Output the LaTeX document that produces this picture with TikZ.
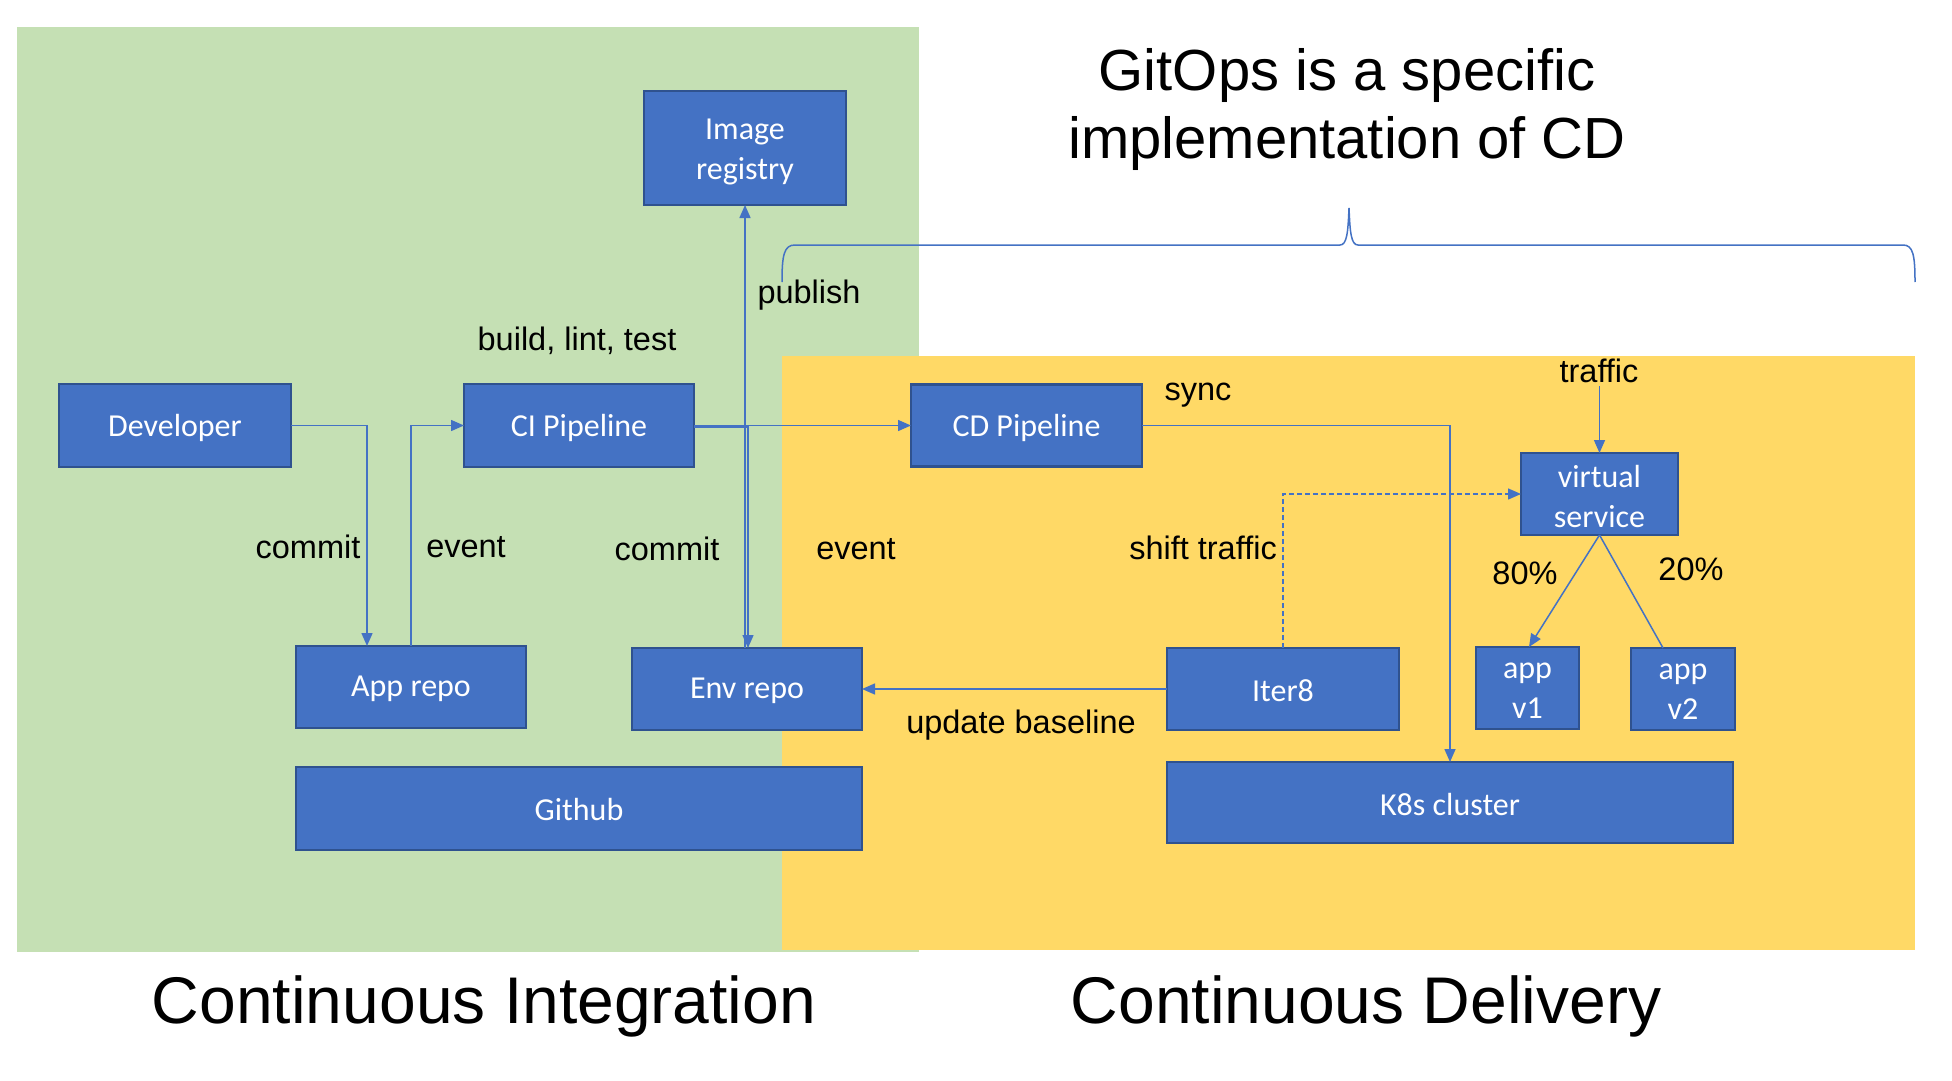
\documentclass[tikz,border=0pt]{standalone}
\usepackage{fontspec}
\setmainfont{Liberation Sans}
\newfontfamily\boxfont{Carlito}
\usetikzlibrary{arrows.meta}
\definecolor{cigreen}{HTML}{C5E0B4}
\definecolor{cdyellow}{HTML}{FFD966}
\definecolor{boxblue}{HTML}{4472C4}
\definecolor{boxedge}{HTML}{2F528F}
\definecolor{linec}{HTML}{4472C4}
\begin{document}
\begin{tikzpicture}[x=1pt,y=-1pt,
  box/.style={draw=boxedge, fill=boxblue, line width=2.5pt, inner sep=0pt, outer sep=0pt},
  boxt/.style={inner sep=0pt, text=white, align=center, font=\boxfont\fontsize{32}{40}\selectfont},
  lbl/.style={inner sep=0pt, font=\fontsize{32.5}{38}\selectfont},
  bigt/.style={inner sep=0pt, anchor=base, font=\fontsize{66}{70}\selectfont},
  midt/.style={inner sep=0pt, anchor=base, font=\fontsize{58}{62}\selectfont},
  arr/.style={draw=linec, line width=1.5pt, -{Triangle[length=13pt,width=11pt]}},
  plain/.style={draw=linec, line width=1.5pt}]
\useasboundingbox (0,0) rectangle (1952,1081);
\fill[white] (0,0) rectangle (1952,1081);
\fill[cigreen] (17,27) rectangle (919,952);
\fill[cdyellow] (782,356) rectangle (1915,950);

% nodes
\node[box, minimum width=202pt, minimum height=114pt, label={[boxt,yshift=-4pt]center:{Image\\registry}}] (img) at (745,148) {};
\node[box, minimum width=232pt, minimum height=83pt, label={[boxt,yshift=-2pt]center:Developer}] (dev) at (175,425.5) {};
\node[box, minimum width=230pt, minimum height=83pt, label={[boxt,yshift=-2pt]center:CI Pipeline}] (ci) at (579,425.5) {};
\node[box, minimum width=231pt, minimum height=82pt, label={[boxt,yshift=-2pt]center:CD Pipeline}] (cd) at (1026.5,425.5) {};
\node[box, minimum width=157pt, minimum height=82pt, label={[boxt,yshift=-3pt]center:{virtual\\service}}] (vs) at (1599.5,494) {};
\node[box, minimum width=103pt, minimum height=82pt, label={[boxt,yshift=-3pt]center:{app\\v1}}] (v1) at (1527.5,688) {};
\node[box, minimum width=104pt, minimum height=82pt, label={[boxt,yshift=-3pt]center:{app\\v2}}] (v2) at (1683,689) {};
\node[box, minimum width=232pt, minimum height=82pt, label={[boxt,yshift=-2pt]center:Iter8}] (iter) at (1283,689) {};
\node[box, minimum width=566pt, minimum height=81pt, label={[boxt,yshift=-2pt]center:K8s cluster}] (k8s) at (1450,802.5) {};
\node[box, minimum width=230pt, minimum height=82pt, label={[boxt,yshift=-2pt]center:App repo}] (app) at (411,687) {};
\node[box, minimum width=230pt, minimum height=82pt, label={[boxt,yshift=-2pt]center:Env repo}] (env) at (747,689) {};
\node[box, minimum width=566pt, minimum height=83pt, label={[boxt,yshift=-1pt]center:Github}] (gh) at (579,808.5) {};

\coordinate (trafficsrc) at (1599.5,386);

% connectors
\draw[arr] (dev.east) -| ([xshift=-44pt]app.north);
\draw[arr] (app.north) |- (ci.west);
\draw[arr] (ci.east) -- (cd.west);
\draw[arr] ([yshift=-1.5pt]ci.east) -| ([xshift=1pt]env.north);
\draw[arr] ([xshift=-2pt]env.north) -- (img.south);
\draw[arr] (cd.east) -| (k8s.north);
\draw[arr] (iter.west) -- (env.east);
\draw[arr, dashed, dash pattern=on 5pt off 3pt] (iter.north) |- (vs.west);
\draw[arr] (trafficsrc) -- (vs.north);
\draw[arr] (vs.south) -- ([xshift=1.5pt]v1.north);
\draw[plain] (vs.south) -- ([xshift=-20pt]v2.north);

% brace
\draw[draw=linec, line width=1.5pt] (782,282) .. controls (782,255) and (784,245) .. (795,245) -- (1340,245)
  .. controls (1347,245) and (1348,232) .. (1349,208) .. controls (1350,232) and (1351,245) .. (1358,245)
  -- (1903,245) .. controls (1913,245) and (1915,255) .. (1915,282);

% labels
\node[lbl] (l1) at (308,547) {commit};
\node[lbl] (l2) at (466,547) {event};
\node[lbl] (l3) at (667,549) {commit};
\node[lbl] (l4) at (856,549) {event};
\node[lbl] (l5) at (577,341) {build,\ lint,\ test};
\node[lbl] (l6) at (809,295) {publish};
\node[lbl] (l7) at (1198,395) {sync};
\node[lbl] (l8) at (1599,371) {traffic};
\node[lbl] (l9) at (1203,548) {shift traffic};
\node[lbl] (l10) at (1525,573) {80\%};
\node[lbl] (l11) at (1691,569) {20\%};
\node[lbl] (l12) at (1021,725) {update baseline};

\node[midt] (t1) at (1347,90) {GitOps is a specific};
\node[midt] (t2) at (1347,158) {implementation of CD};
\node[bigt] (t3) at (484,1023) {Continuous Integration};
\node[bigt] (t4) at (1366,1023) {Continuous Delivery};
\end{tikzpicture}
\end{document}
